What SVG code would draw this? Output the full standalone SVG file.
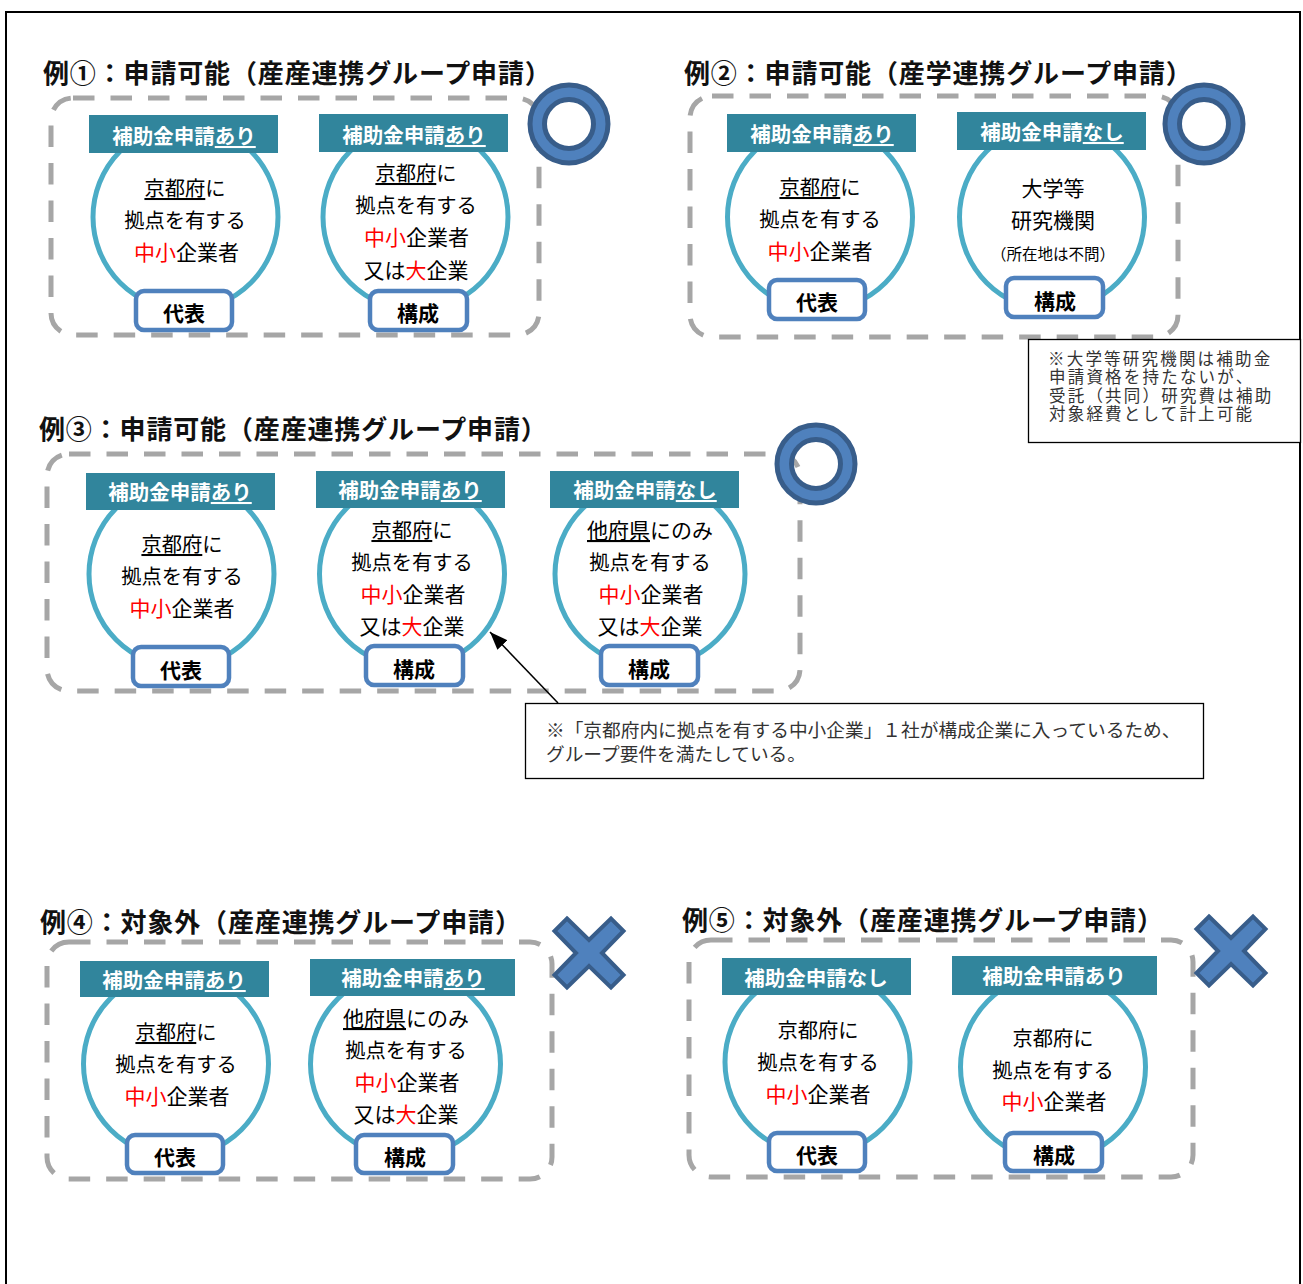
<svg xmlns="http://www.w3.org/2000/svg" width="1303" height="1284" viewBox="0 0 1303 1284">
<defs>
<style>
text{font-family:"Noto Sans CJK JP","Noto Sans CJK SC",sans-serif}
.title{font-size:26px;font-weight:700;fill:#111;letter-spacing:.85px}
.dash{fill:none;stroke:#a6a6a6;stroke-width:5;stroke-dasharray:21.500 16}
.circ{fill:#fff;stroke:#4bacc6;stroke-width:5}
.ban{fill:#31859c}
.bt{font-size:20.500px;font-weight:700;fill:#fff;text-anchor:middle}
.lbl{fill:#fff;stroke:#4f81bd;stroke-width:4.5}
.lt{font-size:21px;font-weight:700;fill:#000;text-anchor:middle}
.t{font-size:20.300px;fill:#000;text-anchor:middle}
.w{font-size:21px}
.s{font-size:15.500px;fill:#000;text-anchor:middle}
.r{fill:#f00}
.u{text-decoration:underline}
.ring{fill:#4f81bd;stroke:#385d8a;stroke-width:5;fill-rule:evenodd}
.x{fill:#4f81bd;stroke:#385d8a;stroke-width:4}
.note{fill:#fff;stroke:#000;stroke-width:1.3}
.nt{font-size:18.700px;fill:#333}
.nc{font-size:16.500px;letter-spacing:2.200px;fill:#333}
</style>
<marker id="ah" markerUnits="userSpaceOnUse" markerWidth="20" markerHeight="16" refX="18" refY="7" orient="auto"><path d="M0 0L18 7L0 14z" fill="#000"/></marker>
<path id="ringp" d="M0-39A39 39 0 1 1 0 39A39 39 0 1 1 0-39zM0-24.500A24.500 24.500 0 1 0 0 24.500A24.500 24.500 0 1 0 0-24.500z"/>
<path id="xp" d="M-22-34.500L0-13L22-34.500L34.500-22L13 0L34.500 22L22 34.500L0 13L-22 34.500L-34.500 22L-13 0L-34.500-22z"/>
</defs>
<rect width="1303" height="1284" fill="#fff"/>
<path d="M6 1284V12H1300V1284" fill="none" stroke="#000" stroke-width="2"/>

<g id="case1">
<text class="title" x="43" y="83">例①：申請可能（産産連携グループ申請）</text>
<rect class="dash" x="51" y="98" width="488" height="237" rx="22"/>
<use href="#ringp" class="ring" x="569" y="124"/>
</g>
<g id="c1a">
<ellipse class="circ" cx="185.500" cy="217" rx="92.500" ry="93"/>
<rect class="ban" x="89" y="115" width="189" height="38"/>
<text class="bt" x="184" y="144">補助金申請<tspan class="u">あり</tspan></text>
<text class="t" x="185" y="196"><tspan class="u">京都府</tspan>に</text>
<text class="t" x="185" y="228">拠点を有する</text>
<text class="t w" x="186.500" y="260"><tspan class="r">中小</tspan>企業者</text>
<rect class="lbl" x="136" y="291" width="96" height="39" rx="8"/>
<text class="lt" x="184" y="321">代表</text>
</g>
<g id="c1b">
<ellipse class="circ" cx="415.500" cy="217" rx="92.500" ry="93"/>
<rect class="ban" x="319" y="114" width="189" height="38"/>
<text class="bt" x="414" y="143">補助金申請<tspan class="u">あり</tspan></text>
<text class="t" x="416" y="181"><tspan class="u">京都府</tspan>に</text>
<text class="t" x="416" y="213">拠点を有する</text>
<text class="t w" x="416.500" y="245"><tspan class="r">中小</tspan>企業者</text>
<text class="t w" x="416" y="278">又は<tspan class="r">大</tspan>企業</text>
<rect class="lbl" x="370" y="291" width="97" height="39" rx="8"/>
<text class="lt" x="418" y="321">構成</text>
</g>

<g id="case2">
<text class="title" x="684" y="83">例②：申請可能（産学連携グループ申請）</text>
<rect class="dash" x="690" y="96" width="488" height="241" rx="22"/>
<use href="#ringp" class="ring" x="1204" y="124"/>
</g>
<g id="c2a">
<ellipse class="circ" cx="820" cy="217" rx="92.500" ry="93"/>
<rect class="ban" x="727" y="114" width="189" height="38"/>
<text class="bt" x="822" y="142">補助金申請<tspan class="u">あり</tspan></text>
<text class="t" x="820" y="195"><tspan class="u">京都府</tspan>に</text>
<text class="t" x="820" y="227">拠点を有する</text>
<text class="t w" x="820" y="259"><tspan class="r">中小</tspan>企業者</text>
<rect class="lbl" x="769" y="280" width="96" height="39" rx="8"/>
<text class="lt" x="817" y="310">代表</text>
</g>
<g id="c2b">
<ellipse class="circ" cx="1052" cy="217" rx="92.500" ry="93"/>
<rect class="ban" x="957" y="112" width="189" height="38"/>
<text class="bt" x="1052" y="140">補助金申請<tspan class="u">なし</tspan></text>
<text class="t w" x="1053" y="196">大学等</text>
<text class="t w" x="1053" y="228">研究機関</text>
<text class="s" x="1053" y="260">（所在地は不問）</text>
<rect class="lbl" x="1006" y="278" width="97" height="39" rx="8"/>
<text class="lt" x="1055" y="309">構成</text>
</g>
<g id="note1">
<rect class="note" x="1028.500" y="339.500" width="272" height="103"/>
<text class="nc" x="1048" y="364.500">※大学等研究機関は補助金</text>
<text class="nc" x="1049" y="383">申請資格を持たないが、</text>
<text class="nc" x="1049" y="401.500">受託（共同）研究費は補助</text>
<text class="nc" x="1049" y="420">対象経費として計上可能</text>
</g>

<g id="case3">
<text class="title" x="39" y="439">例③：申請可能（産産連携グループ申請）</text>
<rect class="dash" x="47" y="454" width="753" height="237" rx="22"/>
<use href="#ringp" class="ring" x="816" y="464"/>
</g>
<g id="c3a">
<ellipse class="circ" cx="181.500" cy="574" rx="92.500" ry="93"/>
<rect class="ban" x="86" y="473" width="189" height="37"/>
<text class="bt" x="180" y="500">補助金申請<tspan class="u">あり</tspan></text>
<text class="t" x="182" y="552"><tspan class="u">京都府</tspan>に</text>
<text class="t" x="182" y="584">拠点を有する</text>
<text class="t w" x="182" y="616"><tspan class="r">中小</tspan>企業者</text>
<rect class="lbl" x="133" y="647" width="96" height="39" rx="8"/>
<text class="lt" x="181" y="678">代表</text>
</g>
<g id="c3b">
<ellipse class="circ" cx="412" cy="574" rx="92.500" ry="93"/>
<rect class="ban" x="316" y="471" width="189" height="37"/>
<text class="bt" x="410" y="498">補助金申請<tspan class="u">あり</tspan></text>
<text class="t" x="412" y="538"><tspan class="u">京都府</tspan>に</text>
<text class="t" x="412" y="570">拠点を有する</text>
<text class="t w" x="413" y="602"><tspan class="r">中小</tspan>企業者</text>
<text class="t w" x="412" y="634">又は<tspan class="r">大</tspan>企業</text>
<rect class="lbl" x="366" y="646" width="97" height="39" rx="8"/>
<text class="lt" x="414" y="677">構成</text>
</g>
<g id="c3c">
<ellipse class="circ" cx="650" cy="574" rx="95" ry="93"/>
<rect class="ban" x="550" y="471" width="189" height="37"/>
<text class="bt" x="645" y="498">補助金申請<tspan class="u">なし</tspan></text>
<text class="t w" x="650" y="538"><tspan class="u">他府県</tspan>にのみ</text>
<text class="t" x="650" y="570">拠点を有する</text>
<text class="t w" x="651" y="602"><tspan class="r">中小</tspan>企業者</text>
<text class="t w" x="650" y="634">又は<tspan class="r">大</tspan>企業</text>
<rect class="lbl" x="601" y="646" width="97" height="39" rx="8"/>
<text class="lt" x="649" y="677">構成</text>
</g>
<g id="note2">
<rect class="note" x="525.500" y="703.500" width="678" height="75"/>
<text class="nt" x="546" y="737">※「京都府内に拠点を有する中小企業」１社が構成企業に入っているため、</text>
<text class="nt" x="546" y="761">グループ要件を満たしている。</text>
</g>

<g id="case4">
<text class="title" x="40" y="932">例④：対象外（産産連携グループ申請）</text>
<rect class="dash" x="47" y="942" width="505" height="237" rx="22"/>
<use href="#xp" class="x" x="589" y="953"/>
</g>
<g id="c4a">
<ellipse class="circ" cx="176" cy="1064" rx="92.500" ry="93"/>
<rect class="ban" x="80" y="961" width="189" height="36"/>
<text class="bt" x="174" y="988">補助金申請<tspan class="u">あり</tspan></text>
<text class="t" x="176" y="1040"><tspan class="u">京都府</tspan>に</text>
<text class="t" x="176" y="1072">拠点を有する</text>
<text class="t w" x="177" y="1104"><tspan class="r">中小</tspan>企業者</text>
<rect class="lbl" x="127" y="1135" width="96" height="38" rx="8"/>
<text class="lt" x="175" y="1165">代表</text>
</g>
<g id="c4b">
<ellipse class="circ" cx="405.500" cy="1064" rx="95" ry="93"/>
<rect class="ban" x="310" y="959" width="205" height="37"/>
<text class="bt" x="413" y="986">補助金申請<tspan class="u">あり</tspan></text>
<text class="t w" x="406" y="1026"><tspan class="u">他府県</tspan>にのみ</text>
<text class="t" x="406" y="1058">拠点を有する</text>
<text class="t w" x="407" y="1090"><tspan class="r">中小</tspan>企業者</text>
<text class="t w" x="406" y="1122">又は<tspan class="r">大</tspan>企業</text>
<rect class="lbl" x="356" y="1135" width="97" height="38" rx="8"/>
<text class="lt" x="405" y="1165">構成</text>
</g>

<g id="case5">
<text class="title" x="682" y="930">例⑤：対象外（産産連携グループ申請）</text>
<rect class="dash" x="689" y="940" width="504" height="237" rx="22"/>
<use href="#xp" class="x" x="1231" y="951"/>
</g>
<g id="c5a">
<ellipse class="circ" cx="817.500" cy="1062" rx="92.500" ry="93"/>
<rect class="ban" x="722" y="958" width="189" height="37"/>
<text class="bt" x="816" y="986">補助金申請なし</text>
<text class="t" x="818" y="1038">京都府に</text>
<text class="t" x="818" y="1070">拠点を有する</text>
<text class="t w" x="818" y="1102"><tspan class="r">中小</tspan>企業者</text>
<rect class="lbl" x="769" y="1133" width="96" height="38" rx="8"/>
<text class="lt" x="817" y="1163">代表</text>
</g>
<g id="c5b">
<ellipse class="circ" cx="1053" cy="1067" rx="92.500" ry="93"/>
<rect class="ban" x="952" y="956" width="205" height="39"/>
<text class="bt" x="1054" y="984">補助金申請あり</text>
<text class="t" x="1053" y="1046">京都府に</text>
<text class="t" x="1053" y="1078">拠点を有する</text>
<text class="t w" x="1054" y="1109"><tspan class="r">中小</tspan>企業者</text>
<rect class="lbl" x="1005" y="1133" width="97" height="38" rx="8"/>
<text class="lt" x="1054" y="1163">構成</text>
</g>

<g id="connectors">
<path d="M558 703L490 632" fill="none" stroke="#000" stroke-width="1.500" marker-end="url(#ah)"/>
</g>
</svg>
